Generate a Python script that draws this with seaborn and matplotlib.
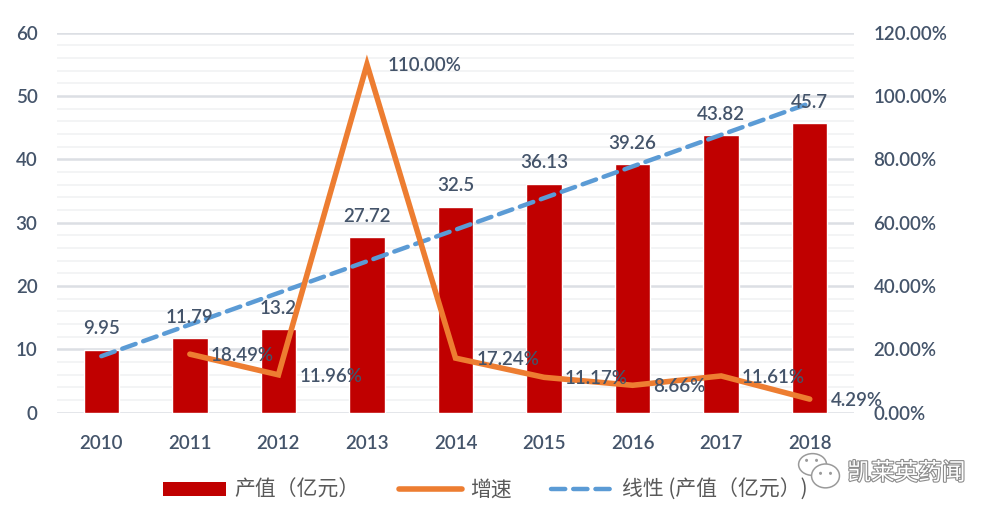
"""Output value and growth rate chart, 2010-2018."""

import numpy as np
import pandas as pd
import matplotlib
matplotlib.use("Agg")
import matplotlib.pyplot as plt
import matplotlib.patheffects as pe
from matplotlib.patches import Ellipse
from matplotlib.lines import Line2D
from matplotlib.patches import Patch
import seaborn as sns

# data
years = ["2010", "2011", "2012", "2013", "2014", "2015", "2016", "2017", "2018"]
output_value = [9.95, 11.79, 13.2, 27.72, 32.5, 36.13, 39.26, 43.82, 45.7]
growth_years = ["2011", "2012", "2013", "2014", "2015", "2016", "2017", "2018"]
growth_rate = [18.49, 11.96, 110.00, 17.24, 11.17, 8.66, 11.61, 4.29]

bar_label = "产值（亿元）"
growth_label = "增速"
trend_label = "线性 (产值（亿元）)"
watermark = "凯莱英药闻"

BAR_COLOR = "#C00000"
LINE_COLOR = "#ED7D31"
TREND_COLOR = "#5B9BD5"
TEXT_COLOR = "#44546A"
FS = 13.5
WEIGHT = "semibold"

sns.set_theme(style="white")
plt.rcParams["font.family"] = ["Lato", "Noto Sans CJK SC", "DejaVu Sans"]

df = pd.DataFrame({"year": years, "value": output_value})
x_pos = np.arange(len(years))
growth_pos = np.array([years.index(y) for y in growth_years])

fig = plt.figure(figsize=(9.97, 5.19), dpi=100)
ax = fig.add_axes([0.0572, 0.2048, 0.7994, 0.7322])

# gridlines: major every 10, minor every 2
ax.set_ylim(0, 60)
ax.set_yticks(np.arange(0, 61, 10))
ax.set_yticks(np.arange(0, 61, 2), minor=True)
ax.grid(axis="y", which="minor", color="#F2F3F5", lw=1.3, zorder=0)
ax.grid(axis="y", which="major", color="#DCDFE4", lw=1.8, zorder=0)
ax.set_axisbelow(True)

sns.barplot(data=df, x="year", y="value", color=BAR_COLOR, width=0.4,
            saturation=1, ax=ax, zorder=2)

# linear trend of the bars
slope, intercept = np.polyfit(x_pos, output_value, 1)
trend = slope * x_pos + intercept
ax.plot(x_pos, trend, color=TREND_COLOR, lw=3.2, ls=(0, (3.2, 1.8)),
        dash_capstyle="round", zorder=4)

for i, v in enumerate(output_value):
    ax.annotate(f"{v:g}", (i, v), xytext=(0, 9), textcoords="offset points",
                ha="center", va="bottom", fontsize=FS, color=TEXT_COLOR,
                weight=WEIGHT, zorder=6)

ax.set_xlim(-0.5, len(years) - 0.5)
ax.set_xlabel("")
ax.set_ylabel("")
ax.tick_params(axis="both", which="both", length=0, labelsize=FS,
               labelcolor=TEXT_COLOR)
ax.tick_params(axis="x", pad=16)
ax.tick_params(axis="y", pad=14)
for lbl in ax.get_xticklabels() + ax.get_yticklabels():
    lbl.set_fontweight(WEIGHT)
for s in ax.spines.values():
    s.set_visible(False)

# growth rate on the secondary axis
ax2 = ax.twinx()
ax2.set_ylim(0, 120)
ax2.set_yticks(np.arange(0, 121, 20))
ax2.set_yticklabels([f"{t:.2f}%" for t in np.arange(0, 121, 20)],
                    fontweight=WEIGHT)
ax2.tick_params(axis="y", length=0, labelsize=FS, labelcolor=TEXT_COLOR, pad=14)
for s in ax2.spines.values():
    s.set_visible(False)
ax2.grid(False)
ax2.plot(growth_pos, growth_rate, color=LINE_COLOR, lw=4,
         solid_capstyle="round", solid_joinstyle="miter", zorder=3)
for i, g in zip(growth_pos, growth_rate):
    ax2.annotate(f"{g:.2f}%", (i, g), xytext=(15, -1), textcoords="offset points",
                 ha="left", va="center", fontsize=FS, color=TEXT_COLOR,
                 weight=WEIGHT)

# legend at the bottom
handles = [
    Patch(facecolor=BAR_COLOR, edgecolor="none"),
    Line2D([0], [0], color=LINE_COLOR, lw=4, solid_capstyle="round"),
    Line2D([0], [0], color=TREND_COLOR, lw=3.2, ls=(0, (3.2, 1.8)),
           dash_capstyle="round"),
]
fig.legend(handles, [bar_label, growth_label, trend_label],
           loc="center", bbox_to_anchor=(0.487, 0.056), ncol=3, frameon=False,
           labelcolor="#595959", handlelength=3.0,
           handleheight=0.65, handletextpad=0.4, columnspacing=1.9,
           prop={"family": ["Noto Sans CJK SC", "DejaVu Sans"], "size": 15,
                 "weight": "light"})

# watermark: wechat-style bubbles and account name
fig.text(0.85, 0.088, watermark, fontsize=17, color="white",
         family=["Noto Sans CJK SC"], va="center", ha="left",
         path_effects=[pe.withStroke(linewidth=1.6, foreground="#8C8C8C")])
for (cx, cy, w, h) in [(0.815, 0.105, 0.028, 0.042), (0.828, 0.083, 0.028, 0.046)]:
    fig.add_artist(Ellipse((cx, cy), w, h, transform=fig.transFigure,
                           facecolor="white", edgecolor="#9A9A9A", lw=1.1))
for (cx, cy) in [(0.809, 0.113), (0.819, 0.113), (0.823, 0.088), (0.833, 0.088)]:
    fig.add_artist(Ellipse((cx, cy), 0.003, 0.006, transform=fig.transFigure,
                           facecolor="#9A9A9A", edgecolor="none"))

fig.savefig("out.png", dpi=100)
